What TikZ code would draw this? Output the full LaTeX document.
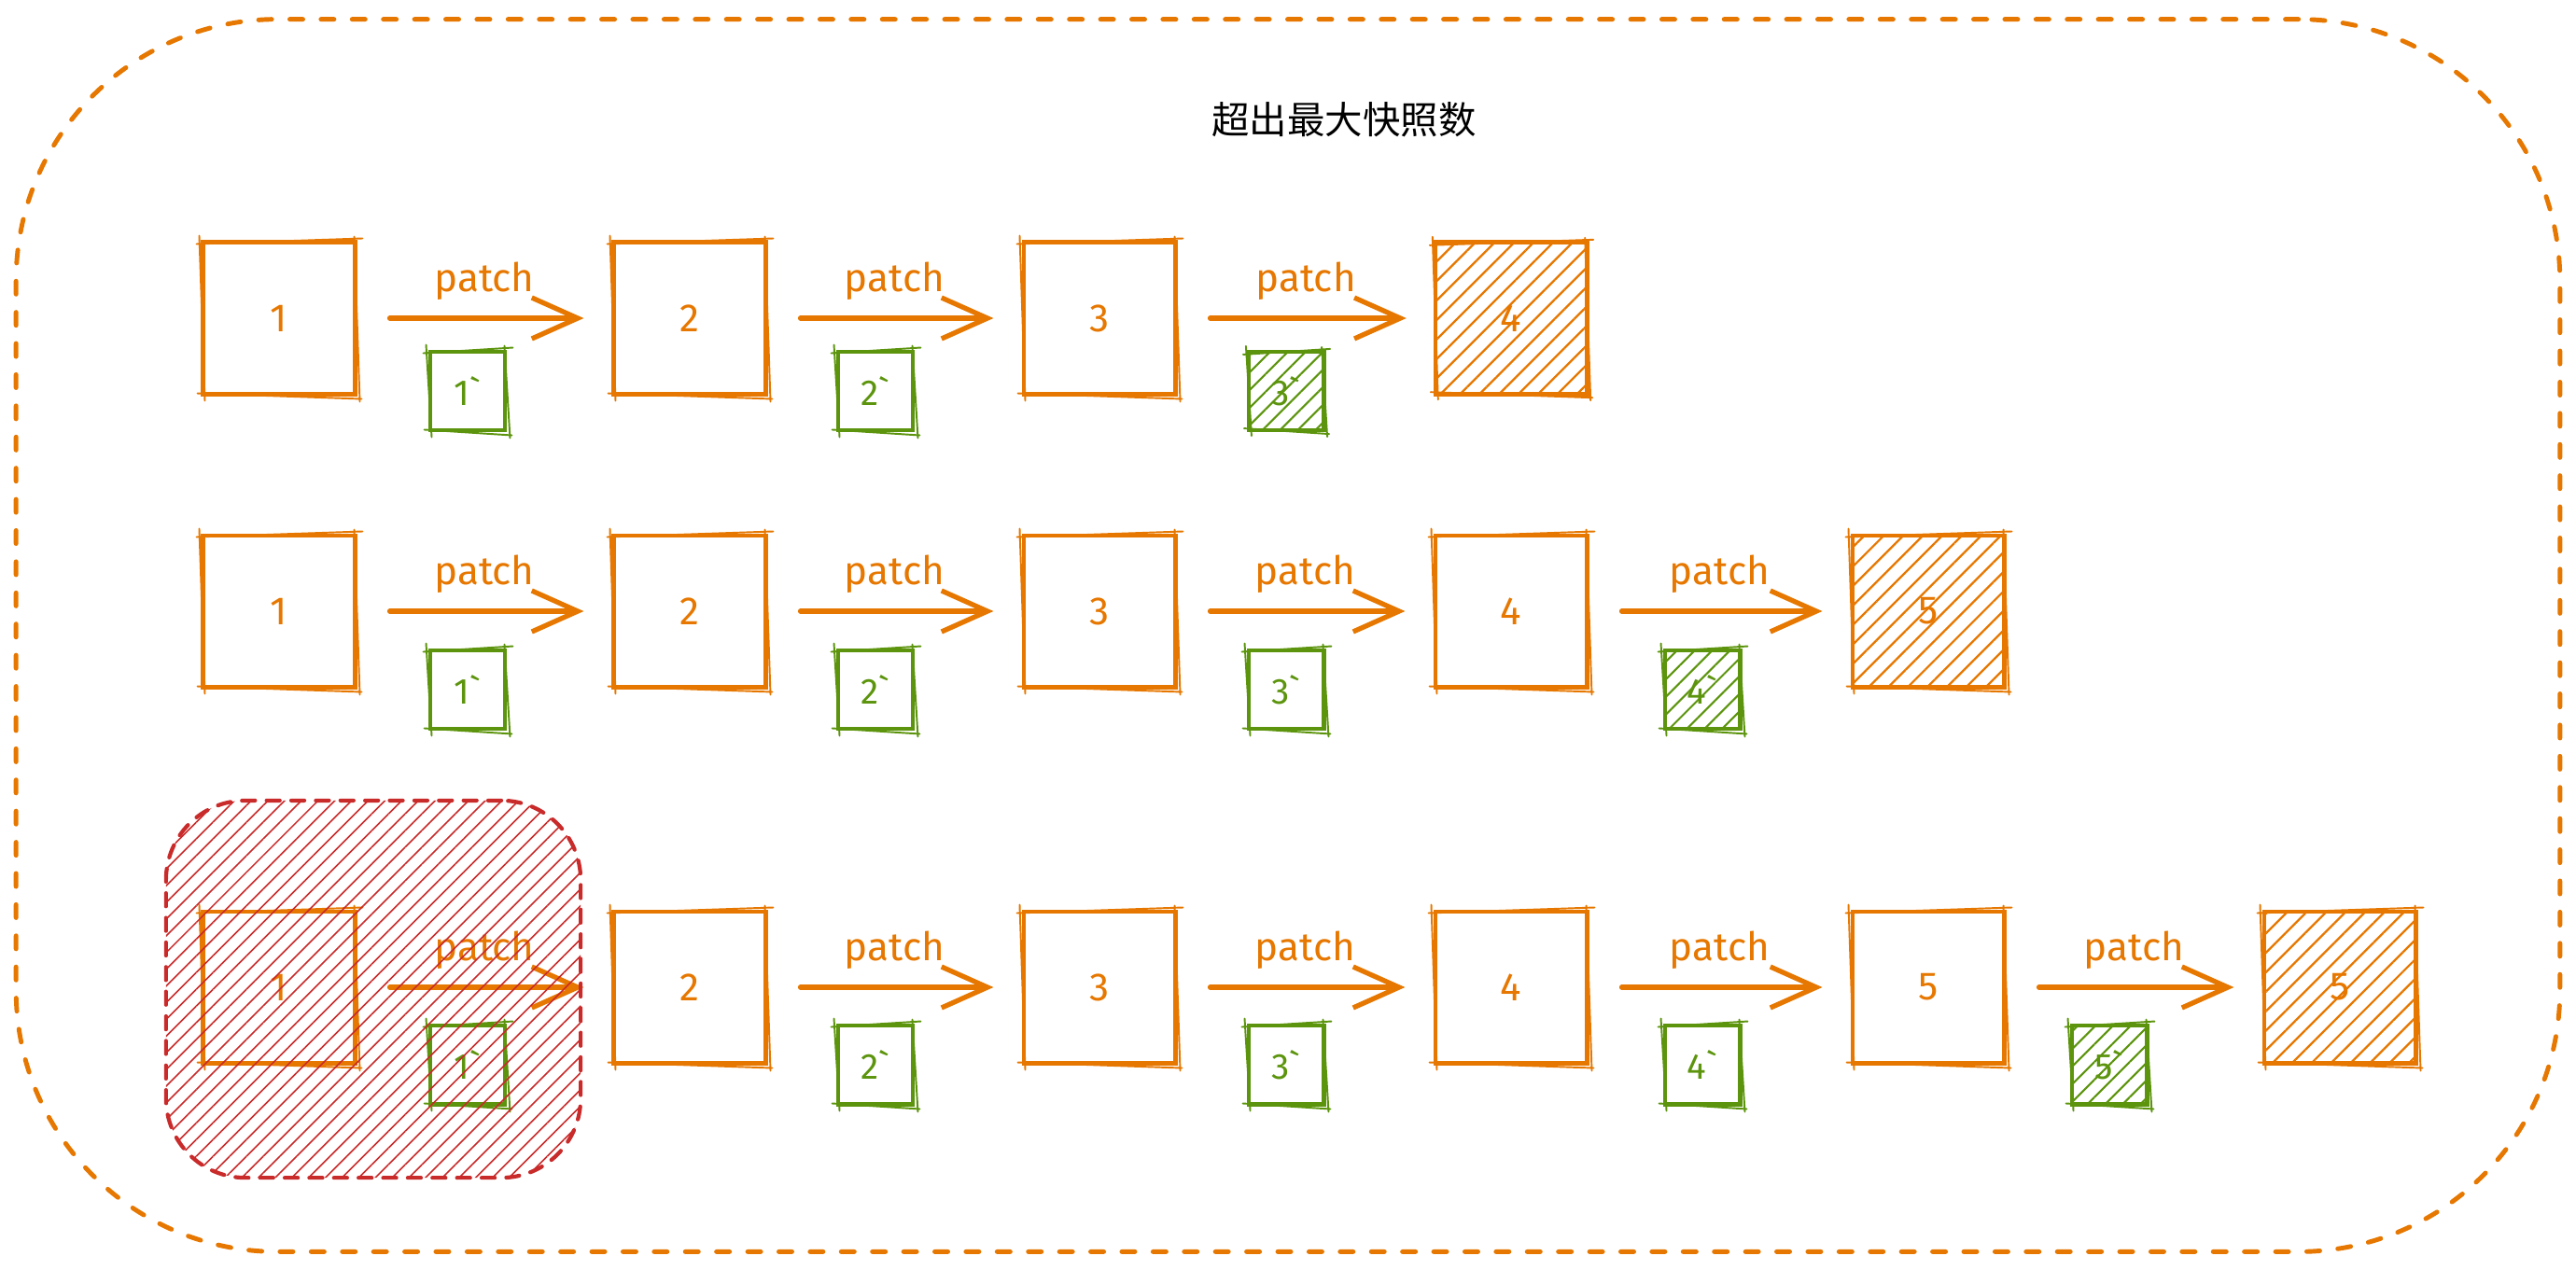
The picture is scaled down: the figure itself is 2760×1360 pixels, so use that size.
\documentclass[tikz,border=0pt]{standalone}
\usepackage{fontspec}
\setmainfont{Fira Sans}
\newfontfamily\cjk{Noto Sans CJK SC}
\usetikzlibrary{arrows.meta,patterns.meta}
\definecolor{org}{HTML}{E67700}
\definecolor{grn}{HTML}{5C940D}
\definecolor{rd}{HTML}{C92A2A}
\tikzset{
 bigbox/.style={draw=org, line width=1.4pt, minimum width=1.62cm, minimum height=1.62cm, inner sep=0pt, text=org, font=\fontsize{12}{14}\selectfont},
 smallbox/.style={draw=grn, line width=1.4pt, minimum width=0.8cm, minimum height=0.84cm, inner sep=0pt, text=grn, font=\fontsize{11}{13}\selectfont},
 hatchO/.style={pattern={Lines[angle=45,distance=4.2pt,line width=0.65pt]}, pattern color=org},
 hatchG/.style={pattern={Lines[angle=45,distance=3.8pt,line width=0.6pt]}, pattern color=grn},
 flow/.style={draw=org, line width=1.5pt, line cap=round, -{Straight Barb[length=14pt,width=12.5pt]}, shorten <=0.35cm, shorten >=0.3cm},
 lbl/.style={text=org, font=\fontsize{12}{14}\selectfont, yshift=0.4cm},
}
\newcommand\sketchedge[2]{%
 \draw[#2, line width=0.55pt, line cap=round]
  ([shift={(-5,4)}]#1.north west) -- ([shift={(6,-2)}]#1.north east)
  ([shift={(-3,-4)}]#1.north east) -- ([shift={(3,6)}]#1.south east)
  ([shift={(5,3)}]#1.south east) -- ([shift={(-4,-3)}]#1.south west)
  ([shift={(4,5)}]#1.south west) -- ([shift={(-2,-5)}]#1.north west);
}
\begin{document}
\begin{tikzpicture}[x=0.01cm, y=-0.01cm]
\useasboundingbox (0,0) rectangle (2760,1360);
\node[draw=org, line width=1.4pt, dash pattern=on 4pt off 5.5pt, line cap=round, rounded corners=2.8cm, minimum width=27.24cm, minimum height=13.2cm] (frame) at (1380,681) {};
\node[font=\cjk\fontsize{11.5}{14}\selectfont] (title) at (1440,128) {超出最大快照数};
% row 1
\node[bigbox] (r1b1) at (299,341) {1};
\node[bigbox] (r1b2) at (739,341) {2};
\node[bigbox] (r1b3) at (1178,341) {3};
\node[bigbox, hatchO] (r1b4) at (1619,341) {4};
\node[smallbox] (r1g1) at (501,419) {1\textasciigrave};
\node[smallbox] (r1g2) at (938,419) {2\textasciigrave};
\node[smallbox, hatchG] (r1g3) at (1378,419) {3\textasciigrave};
\draw[flow] (r1b1) -- node[lbl]{patch} (r1b2);
\draw[flow] (r1b2) -- node[lbl]{patch} (r1b3);
\draw[flow] (r1b3) -- node[lbl]{patch} (r1b4);
% row 2
\node[bigbox] (r2b1) at (299,655) {1};
\node[bigbox] (r2b2) at (739,655) {2};
\node[bigbox] (r2b3) at (1178,655) {3};
\node[bigbox] (r2b4) at (1619,655) {4};
\node[bigbox, hatchO] (r2b5) at (2066,655) {5};
\node[smallbox] (r2g1) at (501,739) {1\textasciigrave};
\node[smallbox] (r2g2) at (938,739) {2\textasciigrave};
\node[smallbox] (r2g3) at (1378,739) {3\textasciigrave};
\node[smallbox, hatchG] (r2g4) at (1824,739) {4\textasciigrave};
\draw[flow] (r2b1) -- node[lbl]{patch} (r2b2);
\draw[flow] (r2b2) -- node[lbl]{patch} (r2b3);
\draw[flow] (r2b3) -- node[lbl]{patch} (r2b4);
\draw[flow] (r2b4) -- node[lbl]{patch} (r2b5);
% row 3
\node[bigbox] (r3b1) at (299,1058) {1};
\node[bigbox] (r3b2) at (739,1058) {2};
\node[bigbox] (r3b3) at (1178,1058) {3};
\node[bigbox] (r3b4) at (1619,1058) {4};
\node[bigbox] (r3b5) at (2066,1058) {5};
\node[bigbox, hatchO] (r3b6) at (2507,1058) {5};
\node[smallbox] (r3g1) at (501,1141) {1\textasciigrave};
\node[smallbox] (r3g2) at (938,1141) {2\textasciigrave};
\node[smallbox] (r3g3) at (1378,1141) {3\textasciigrave};
\node[smallbox] (r3g4) at (1824,1141) {4\textasciigrave};
\node[smallbox, hatchG] (r3g5) at (2260,1141) {5\textasciigrave};
\draw[flow] (r3b1) -- node[lbl]{patch} (r3b2);
\draw[flow] (r3b2) -- node[lbl]{patch} (r3b3);
\draw[flow] (r3b3) -- node[lbl]{patch} (r3b4);
\draw[flow] (r3b4) -- node[lbl]{patch} (r3b5);
\draw[flow] (r3b5) -- node[lbl]{patch} (r3b6);
% sketchy second strokes
\foreach \n in {r1b1,r1b2,r1b3,r1b4,r2b1,r2b2,r2b3,r2b4,r2b5,r3b1,r3b2,r3b3,r3b4,r3b5,r3b6}{\sketchedge{\n}{org}}
\foreach \n in {r1g1,r1g2,r1g3,r2g1,r2g2,r2g3,r2g4,r3g1,r3g2,r3g3,r3g4,r3g5}{\sketchedge{\n}{grn}}
% discarded snapshot zone
\node[draw=rd, line width=1.2pt, dash pattern=on 4pt off 3.5pt, line cap=round, rounded corners=0.85cm, minimum width=4.44cm, minimum height=4.04cm, pattern={Lines[angle=45,distance=3.6pt,line width=0.45pt]}, pattern color=rd] (zone) at (400,1060) {};
\end{tikzpicture}
\end{document}
